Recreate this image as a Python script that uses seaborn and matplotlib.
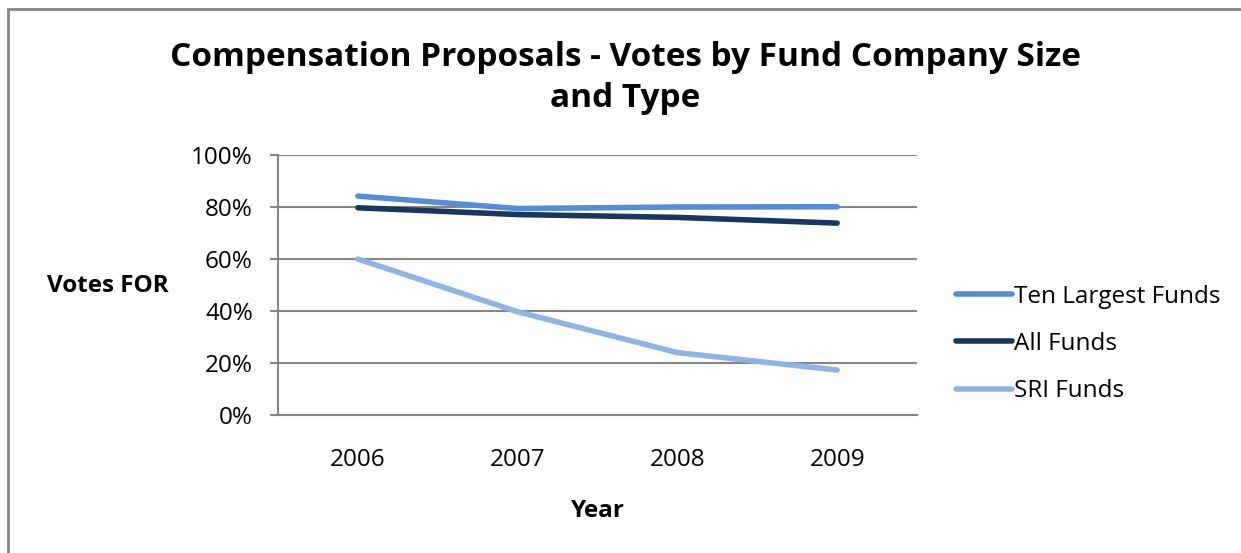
import matplotlib
matplotlib.use("Agg")
import matplotlib.pyplot as plt
from matplotlib.patches import Rectangle
from matplotlib.ticker import FixedLocator, PercentFormatter
import seaborn as sns
import pandas as pd

# Share of compensation proposals voted FOR, by fund group
years = ["2006", "2007", "2008", "2009"]
ten_largest = [84.2, 79.4, 80.0, 80.1]
all_funds = [79.7, 77.1, 76.0, 73.8]
sri_funds = [60.0, 39.7, 24.0, 17.3]

series_names = ["Ten Largest Funds", "All Funds", "SRI Funds"]
series_colors = ["#558ED5", "#17375E", "#8EB4E3"]

df = pd.DataFrame({
    "Year": years * 3,
    "Votes": ten_largest + all_funds + sri_funds,
    "Series": [n for n in series_names for _ in years],
})

sns.set_theme(style="white")
plt.rcParams["font.family"] = ["Open Sans", "DejaVu Sans"]
plt.rcParams["text.color"] = "black"
plt.rcParams["axes.labelcolor"] = "black"

fig = plt.figure(figsize=(12.41, 5.53), dpi=100)
ax = fig.add_axes([278 / 1241, 1 - 415 / 553, (917 - 278) / 1241, (415 - 155) / 553])

sns.lineplot(data=df, x="Year", y="Votes", hue="Series", hue_order=series_names,
             palette=series_colors, linewidth=4.0, ax=ax, sort=False,
             solid_capstyle="round")

grid_color = "#868686"
ax.set_ylim(0, 100)
ax.set_xlim(-0.5, 3.5)
ax.set_yticks([0, 20, 40, 60, 80, 100])
ax.yaxis.set_major_formatter(PercentFormatter(decimals=0))
ax.yaxis.grid(True, color=grid_color, linewidth=1.5)
ax.set_axisbelow(True)
for side in ["top", "right"]:
    ax.spines[side].set_visible(False)
for side in ["left", "bottom"]:
    ax.spines[side].set_color(grid_color)
    ax.spines[side].set_linewidth(1.5)

tick_size = 17.5
ax.set_xticks(range(len(years)))
ax.set_xticklabels(years)
ax.xaxis.set_minor_locator(FixedLocator([-0.5, 0.5, 1.5, 2.5, 3.5]))
ax.tick_params(axis="x", which="major", length=0, pad=24, labelsize=tick_size,
               labelcolor="black")
ax.tick_params(axis="x", which="minor", length=6, width=1.5, color=grid_color,
               direction="out")
ax.tick_params(axis="y", length=6, width=1.5, color=grid_color, direction="out",
               pad=12, labelsize=tick_size, labelcolor="black", left=True)

ax.set_xlabel("Year", fontsize=17.5, fontweight="bold", labelpad=19)
ax.set_ylabel("")
fig.text(47 / 1241, 1 - 286 / 553, "Votes FOR", fontsize=17.5, fontweight="bold",
         va="center", ha="left")

fig.text(625 / 1241, 1 - 78 / 553,
         "Compensation Proposals - Votes by Fund Company Size\nand Type",
         fontsize=24, fontweight="bold", ha="center", va="center", linespacing=1.35)

leg = ax.legend(loc="center left", bbox_to_anchor=(934 / 1241, 1 - 344 / 553),
                bbox_transform=fig.transFigure, frameon=False, fontsize=tick_size,
                handlelength=2.3, handletextpad=0.1, labelspacing=0.95)
for line in leg.get_lines():
    line.set_linewidth(4.0)
    line.set_solid_capstyle("round")

# Outer chart frame (open at right and bottom)
fig.patches.append(Rectangle((8 / 1241, -0.1), 1.2, (553 - 9) / 553 + 0.1,
                             transform=fig.transFigure, fill=False,
                             edgecolor="#868686", linewidth=2))

fig.savefig("out.png", dpi=100)
